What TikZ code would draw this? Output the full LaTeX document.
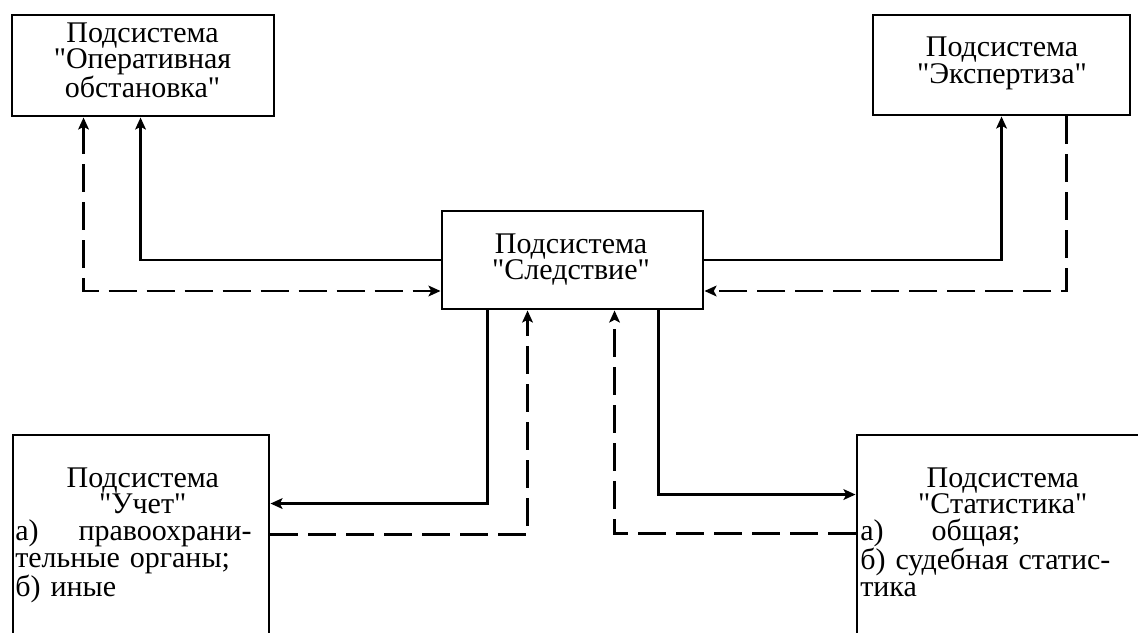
\documentclass[tikz,border=0pt]{standalone}
\usepackage{fontspec}
\setmainfont{Liberation Serif}[Ligatures=TeXOff]
\usetikzlibrary{arrows.meta}
\newlength\pxu
\setlength\pxu{0.75pt}
\begin{document}
\begin{tikzpicture}[x=0.75pt,y=-0.75pt,
  box/.style={draw, line width=2.2pt, inner sep=0pt},
  txt/.style={font=\fontsize{22.5}{20}\selectfont, inner sep=0pt},
  conn/.style={line width=1.8pt, -{Stealth[length=9pt,width=8pt,inset=2pt]}},
  dconn/.style={conn, dash pattern=on 21pt off 7.5pt},
  bconn/.style={line width=1.8pt, dash pattern=on 21pt off 7.5pt, {Stealth[length=9pt,width=8pt,inset=2pt]}-{Stealth[length=9pt,width=8pt,inset=2pt]}}
]
\useasboundingbox (0,0) rectangle (1138,632);
\clip (0,0) rectangle (1138,632);

% boxes
\node[box, minimum width=262\pxu, minimum height=101\pxu] (op) at (143,65.5) {};
\node[box, minimum width=257\pxu, minimum height=100\pxu] (ex) at (1001.5,65) {};
\node[box, minimum width=261\pxu, minimum height=98\pxu] (cen) at (572.5,260) {};
\node[box, minimum width=256\pxu, minimum height=300\pxu] (uch) at (141,585) {};
\node[box, minimum width=293\pxu, minimum height=300\pxu] (st) at (1003.5,585) {};

% texts
\node[txt, anchor=north, align=center] (opt) at (142.5,22.1)
  {Подсистема\\"Оперативная\\обстановка"};
\node[txt, anchor=north, align=center] (ext) at (1002,36.8)
  {Подсистема\\"Экспертиза"};
\node[txt, anchor=north, align=center] (cent) at (571,233.1)
  {Подсистема\\"Следствие"};
\node[txt, anchor=north west, text width=255\pxu, align=left] (ucht) at (15,467.1)
  {\makebox[255\pxu][c]{Подсистема}\\
   \makebox[255\pxu][c]{"Учет"}\\
   а)\hspace{40\pxu}правоохрани-\\
   тельные органы;\\
   б) иные};
\node[txt, anchor=north west, text width=285\pxu, align=left] (stt) at (860,467.1)
  {\makebox[285\pxu][c]{Подсистема}\\
   \makebox[285\pxu][c]{"Статистика"}\\
   а)\hspace{48\pxu}общая;\\
   \makebox[276\pxu][s]{б) судебная статис-}\\
   тика};

% top-left
\draw[conn] (cen.west) -| ([xshift=130\pxu]op.south west);
\draw[bconn] ([xshift=73\pxu]op.south west) |- ([yshift=-31\pxu]cen.west);
% top-right
\draw[conn] (cen.east) -| ([xshift=130\pxu]ex.south west);
\draw[dconn] ([xshift=195\pxu]ex.south west) |- ([yshift=-31\pxu]cen.east);
% bottom-left
\draw[conn] ([xshift=47\pxu]cen.south west) |- ([yshift=-70\pxu]uch.north east);
\draw[dconn] ([yshift=-101\pxu]uch.north east) -| ([xshift=87\pxu]cen.south west);
% bottom-right
\draw[dconn] ([yshift=-100\pxu]st.north west) -| ([xshift=174\pxu]cen.south west);
\draw[conn] ([xshift=218\pxu]cen.south west) |- ([yshift=-61\pxu]st.north west);
\end{tikzpicture}
\end{document}
